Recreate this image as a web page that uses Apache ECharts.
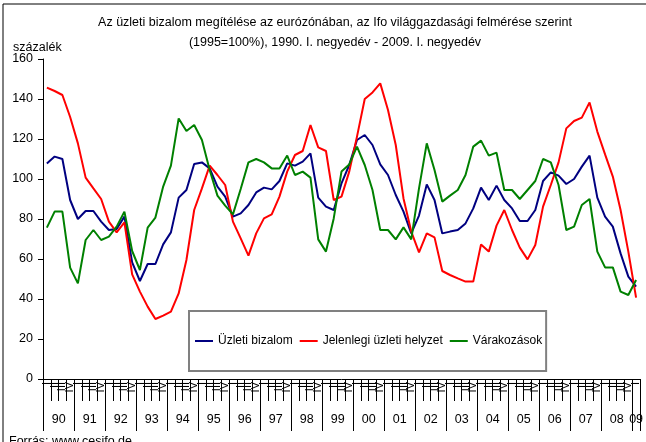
<!DOCTYPE html>
<html>
<head>
<meta charset="utf-8">
<script src="https://cdn.jsdelivr.net/npm/echarts@6/dist/echarts.min.js"></script>
<style>
  html, body { margin: 0; padding: 0; background: #fff; }
  #chart { width: 646px; height: 442px; }
</style>
</head>
<body>
<div id="chart"></div>
<script>
// negyedéves adatok, 1990 I. - 2009 I.
const years = ['90', '91', '92', '93', '94', '95', '96', '97', '98', '99',
  '00', '01', '02', '03', '04', '05', '06', '07', '08', '09']
const quarterLabels = ['I', 'II', 'III', 'IV']
const yTicks = [0, 20, 40, 60, 80, 100, 120, 140, 160]

const uzletiBizalom = [
  107.8, 111.2, 110, 89.5, 80, 84, 84, 78.7, 74.5, 75, 81.2, 58.3, 49, 57.5, 57.5, 67.3,
  73.3, 90.7, 94.5, 107.5, 108.3, 105.3, 96.2, 91.2, 81.2, 82.8, 87, 93.3, 95.7, 94.8,
  99, 107.8, 106.7, 108.7, 112.8, 90.7, 86.2, 84.5, 97.8, 107, 119.5, 122, 117, 107.3,
  102, 92, 83.7, 72.8, 81.7, 97.3, 89.5, 72.8, 73.7, 74.5, 77.8, 85.3, 95.7, 89.5, 96.7,
  89.5, 85.3, 79, 79, 84.5, 99, 103.3, 101.7, 97.5, 100, 106.2, 111.7, 90.7, 81.2, 76.2,
  62.8, 51.2, 46.2
]
const jelenlegiHelyzet = [
  145.7, 144, 142, 131, 117.8, 100.7, 95.3, 90, 78.7, 73.3, 78.3, 52.3, 43.7, 36.2, 30, 31.7,
  33.7, 42.8, 59.5, 84.5, 95.3, 106.7, 102, 97, 78.7, 70.3, 61.7, 72.8, 80.3, 82.3,
  91.2, 103.7, 112, 114, 127, 115.8, 114, 89.5, 91.2, 103.7, 121.2, 140, 143.3, 147.8,
  134.5, 117, 90.3, 73.7, 63.3, 72.8, 70.8, 54, 52, 50.3, 48.7, 48.7, 67.3, 63.7, 76.7,
  84.5, 74.5, 65.7, 59.8, 67, 86.2, 97, 108.3, 125.3, 129, 130.7, 138.3, 123.7, 112.3, 101.2,
  84.5, 63.7, 40.7
]
const varakozasok = [
  75.7, 83.7, 83.7, 55.7, 47.8, 69.5, 74.5, 69.5, 71.2, 76.2, 83.7, 64, 54.5, 75.7, 80.7, 96.2,
  106.7, 130.3, 124, 127, 119.5, 104.5, 91.7, 86.7, 82.3, 95, 108.3, 110, 108.3, 105.3,
  105.3, 111.7, 102, 103.7, 100.7, 69.8, 63.7, 80.3, 103.7, 107.3, 116.2, 107, 94.5, 74.5,
  74.5, 69.8, 75.8, 69.8, 95.3, 117.8, 104.5, 88.7, 91.7, 94.5, 102, 116.2, 119.2, 111.7, 113.2,
  94.5, 94.5, 90, 94.5, 99, 110, 108.3, 97, 74.5, 76.2, 87, 90, 63.7, 55.8, 55.8,
  43.7, 42, 49.5
]

// kategóriák: év + negyedév
const categories = []
years.forEach((y, yi) => {
  const n = yi === years.length - 1 ? 1 : 4
  for (let q = 0; q < n; q++) categories.push(y + ' ' + quarterLabels[q])
})

const font = '"Liberation Sans", Arial, sans-serif'
const chart = echarts.init(document.getElementById('chart'))

chart.setOption({
  animation: false,
  textStyle: { fontFamily: font, color: '#000' },
  title: [
    {
      text: 'Az üzleti bizalom megítélése az eurózónában, az Ifo világgazdasági felmérése szerint\n(1995=100%), 1990. I. negyedév - 2009. I. negyedév',
      left: 330,
      top: 8,
      textAlign: 'center',
      textStyle: { fontSize: 12.5, fontWeight: 'normal', lineHeight: 20, fontFamily: font, color: '#000' }
    },
    {
      text: 'százalék',
      left: 8,
      top: 36,
      textStyle: { fontSize: 12.5, fontWeight: 'normal', fontFamily: font, color: '#000' }
    },
    {
      text: 'Forrás: www.cesifo.de',
      left: 4,
      top: 430,
      textStyle: { fontSize: 12.5, fontWeight: 'normal', fontFamily: font, color: '#000' }
    }
  ],
  graphic: [{
    type: 'rect',
    shape: { x: 3, y: 4, width: 700, height: 500 },
    style: { fill: 'none', stroke: '#000', lineWidth: 1 },
    silent: true
  }],
  legend: {
    left: 189,
    top: 311,
    padding: [22, 4, 22, 6],
    itemGap: 7,
    itemWidth: 18,
    itemHeight: 2,
    icon: 'rect',
    borderColor: '#808080',
    borderWidth: 2,
    textStyle: { fontSize: 12, color: '#000', fontFamily: font, lineHeight: 16 },
    data: ['Üzleti bizalom', 'Jelenlegi üzleti helyzet', 'Várakozások']
  },
  grid: { left: 43, right: 1, top: 59, bottom: 63 },
  xAxis: [
    {
      type: 'category',
      data: categories,
      boundaryGap: true,
      axisLine: { show: true, lineStyle: { color: '#000', width: 1 } },
      axisTick: { show: true, interval: 0, length: 22, lineStyle: { color: '#000', width: 1 } },
      axisLabel: {
        interval: 0,
        rotate: 90,
        margin: 3,
        fontSize: 11,
        color: '#000',
        formatter: v => v.split(' ')[1]
      }
    },
    {
      type: 'category',
      data: categories,
      position: 'bottom',
      boundaryGap: true,
      axisLine: { show: false },
      axisTick: {
        show: true,
        interval: (i) => i % 4 === 0,
        length: 52,
        lineStyle: { color: '#000', width: 1 }
      },
      axisLabel: {
        interval: 0,
        margin: 34,
        fontSize: 12.5,
        color: '#000',
        formatter: (v, i) => {
          const yr = v.split(' ')[0]
          if (i === categories.length - 1) return yr
          return i % 4 === 1 ? '{s|' + yr + '}' : ''
        },
        rich: { s: { padding: [0, 0, 0, 8], fontSize: 12.5, color: '#000', fontFamily: font } }
      }
    }
  ],
  yAxis: {
    type: 'value',
    min: yTicks[0],
    max: yTicks[yTicks.length - 1],
    interval: 20,
    axisLine: { show: true, lineStyle: { color: '#000' } },
    axisTick: { show: true, length: 5, lineStyle: { color: '#000' } },
    splitLine: { show: false },
    axisLabel: { fontSize: 12.5, color: '#000', margin: 10 }
  },
  series: [
    {
      name: 'Üzleti bizalom',
      type: 'line',
      data: uzletiBizalom,
      symbol: 'none',
      lineStyle: { color: '#000080', width: 2 },
      itemStyle: { color: '#000080' }
    },
    {
      name: 'Jelenlegi üzleti helyzet',
      type: 'line',
      data: jelenlegiHelyzet,
      symbol: 'none',
      lineStyle: { color: '#ff0000', width: 2 },
      itemStyle: { color: '#ff0000' }
    },
    {
      name: 'Várakozások',
      type: 'line',
      data: varakozasok,
      symbol: 'none',
      lineStyle: { color: '#008000', width: 2 },
      itemStyle: { color: '#008000' }
    }
  ]
})
</script>
</body>
</html>
